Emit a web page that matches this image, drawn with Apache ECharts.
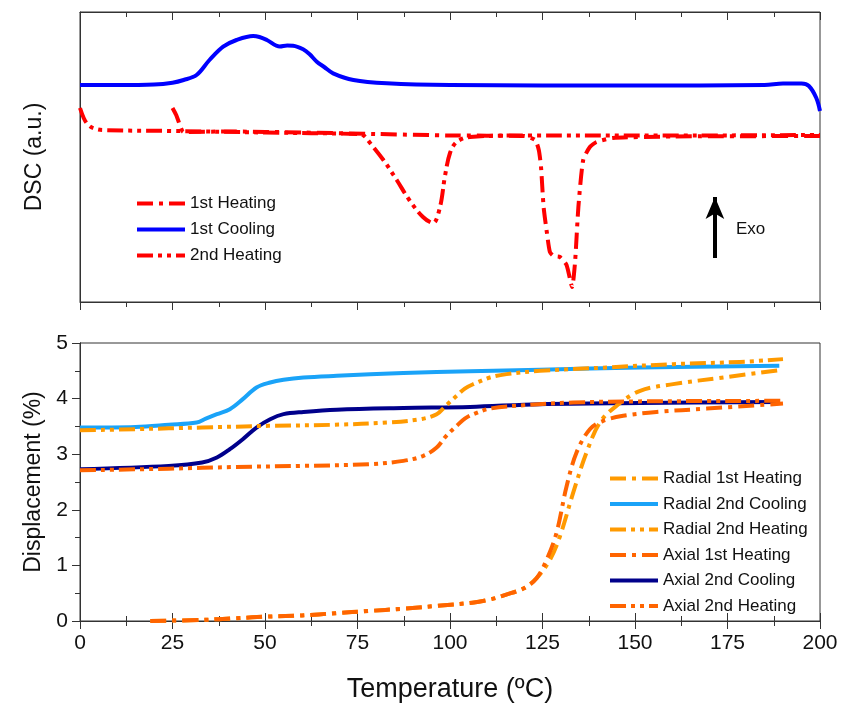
<!DOCTYPE html>
<html>
<head>
<meta charset="utf-8">
<script src="https://cdn.jsdelivr.net/npm/echarts@6/dist/echarts.min.js"></script>
<style>
  body { margin: 0; background: #fff; }
  #main { width: 844px; height: 709px; }
</style>
</head>
<body>
<div id="main"></div>
<script>
// ---- DSC panel (arbitrary units) ----
const cool1T = [0, 10, 20, 25, 28, 31.5, 35, 38.7, 42.3, 46.8, 48.5, 50.5, 54, 56, 57.6, 60.3, 62, 64, 66, 68.4, 73.9, 82.9, 100, 150, 185, 190, 195, 197, 199, 200];
const cool1 = [21.7, 21.7, 21.75, 21.93, 22.2, 22.7, 24.2, 25.53, 26.2, 26.6, 26.5, 26.2, 25.55, 25.65, 25.63, 25.27, 24.8, 24.03, 23.5, 22.87, 22.2, 21.87, 21.7, 21.65, 21.7, 21.85, 21.85, 21.6, 20.4, 19.1];

const heat1T = [25, 26, 27, 28, 40, 60, 80, 100, 120, 123, 124, 124.6, 125.3, 126.2, 127, 128, 129.7, 131.5, 133, 133.8, 134.7, 136, 137.8, 139.6, 144, 160, 200];
const heat1 = [19.4, 18.7, 17.7, 17.0, 17.05, 16.95, 16.8, 16.65, 16.6, 16.2, 15.2, 13.5, 9.5, 6.9, 5.0, 4.6, 4.5, 3.7, 1.5, 4.0, 9.5, 14.2, 15.5, 16.0, 16.4, 16.55, 16.6];

const heat2T = [0, 1, 2, 3.5, 6, 25, 50, 75, 76.5, 78.4, 82, 85.6, 89, 92.7, 95.4, 97.3, 98.6, 100, 101.8, 105.4, 120, 160, 200];
const heat2 = [19.4, 18.4, 17.8, 17.4, 17.2, 17.1, 16.95, 16.8, 16.7, 15.9, 14.2, 12.2, 10.2, 8.5, 7.9, 9.5, 12.5, 14.9, 16.0, 16.5, 16.65, 16.65, 16.7];

// Exo arrow (data coords of the DSC panel)
const exoT = 171.6, exoFrom = 4.4, exoTo = 10.5;

// ---- Displacement panel (%) ----
const radH1T = [19, 33, 42, 51, 60, 69, 78, 87, 96, 106, 111, 115, 120, 123.4, 127, 129.7, 133.3, 136.9, 140.5, 145, 151.4, 160.3, 173.9, 190];
const radH1 = [0, 0.02, 0.05, 0.08, 0.1, 0.14, 0.18, 0.22, 0.27, 0.33, 0.39, 0.47, 0.59, 0.77, 1.1, 1.52, 2.31, 3.03, 3.57, 3.87, 4.14, 4.26, 4.38, 4.52];

const radC2T = [0, 15, 24, 31.5, 34, 37, 40.5, 44, 47.7, 51.4, 55, 60.4, 69.4, 87.4, 105.4, 124.3, 151.4, 189];
const radC2 = [3.48, 3.49, 3.53, 3.57, 3.64, 3.72, 3.81, 3.99, 4.2, 4.29, 4.34, 4.38, 4.41, 4.46, 4.49, 4.52, 4.56, 4.59];

const radH2T = [0, 15, 33, 51, 69, 83, 92, 96.4, 99, 101.8, 104, 106.3, 110.8, 115.3, 124.3, 142.3, 160.3, 178.4, 190];
const radH2 = [3.43, 3.45, 3.48, 3.51, 3.53, 3.57, 3.63, 3.72, 3.88, 4.05, 4.18, 4.26, 4.38, 4.44, 4.50, 4.56, 4.62, 4.66, 4.71];

const axH1T = [19, 33, 42, 51, 60, 69, 78, 87, 96, 106, 111, 115, 120, 123.4, 126.1, 128.8, 131.5, 134.2, 137.8, 141.4, 146.8, 155.8, 169.4, 190];
const axH1 = [0, 0.02, 0.05, 0.08, 0.1, 0.14, 0.18, 0.22, 0.27, 0.33, 0.39, 0.47, 0.59, 0.77, 1.1, 1.59, 2.42, 3.03, 3.45, 3.6, 3.69, 3.76, 3.82, 3.91];

const axC2T = [0, 24, 33, 37, 40.5, 44, 47.7, 51.4, 55, 60.4, 69.4, 87.4, 105.4, 124.3, 151.4, 189];
const axC2 = [2.73, 2.79, 2.85, 2.94, 3.09, 3.27, 3.48, 3.63, 3.72, 3.76, 3.80, 3.83, 3.85, 3.90, 3.92, 3.94];

const axH2T = [0, 24, 42, 60, 78, 87.4, 92.8, 96.4, 99, 101.8, 104, 106.3, 110.8, 119.8, 133.3, 151, 190];
const axH2 = [2.71, 2.74, 2.77, 2.79, 2.82, 2.88, 2.97, 3.12, 3.33, 3.51, 3.64, 3.72, 3.82, 3.88, 3.93, 3.95, 3.96];

function zip(xs, ys) {
    return xs.map(function (x, i) { return [x, ys[i]]; });
}

const FONT = 'Liberation Sans, Arial, sans-serif';
const AX = '#333';
const dash1 = [16, 6, 4, 6];
const dash2 = [16, 5, 4, 5, 4, 5];

function line(name, xs, ys, color, type, xi, yi, extra) {
    const s = {
        name: name,
        type: 'line',
        xAxisIndex: xi,
        yAxisIndex: yi,
        data: zip(xs, ys),
        symbol: 'none',
        smooth: 0.35,
        lineStyle: { color: color, width: 4, type: type, cap: 'butt', join: 'round' },
        itemStyle: { color: color }
    };
    return Object.assign(s, extra || {});
}

function xAx(grid, pos, inside, labels) {
    return {
        type: 'value', gridIndex: grid, position: pos,
        min: 0, max: 200, interval: 25,
        axisLine: { show: true, lineStyle: { color: AX, width: 1 } },
        axisTick: { show: true, inside: inside, length: 8, lineStyle: { color: AX } },
        minorTick: { show: true, splitNumber: 2, length: 5, lineStyle: { color: AX } },
        splitLine: { show: false },
        axisLabel: labels ? {
            show: true, fontFamily: FONT, fontSize: 21, color: '#111', margin: 12
        } : { show: false }
    };
}

const chart = echarts.init(document.getElementById('main'), null, { renderer: 'canvas' });

const legendText = { fontFamily: FONT, fontSize: 17, color: '#111' };

const option = {
    animation: false,
    backgroundColor: '#fff',
    grid: [
        { left: 80, right: 24, top: 12, height: 290, show: true, borderColor: AX, borderWidth: 1 },
        { left: 80, right: 24, top: 343, height: 278, show: true, borderColor: AX, borderWidth: 1 }
    ],
    xAxis: [
        xAx(0, 'bottom', false, false),
        xAx(0, 'top', true, false),
        Object.assign(xAx(1, 'bottom', false, true), {
            name: 'Temperature (ºC)',
            nameLocation: 'middle',
            nameGap: 55,
            nameTextStyle: { fontFamily: FONT, fontSize: 27, color: '#111' }
        }),
        xAx(1, 'top', false, false)
    ],
    yAxis: [
        {
            type: 'value', gridIndex: 0, min: 0, max: 29,
            axisLine: { show: true, lineStyle: { color: AX } },
            axisTick: { show: false }, axisLabel: { show: false }, splitLine: { show: false },
            name: 'DSC (a.u.)', nameLocation: 'middle', nameGap: 34,
            nameTextStyle: { fontFamily: FONT, fontSize: 23, color: '#111' }
        },
        {
            type: 'value', gridIndex: 1, min: 0, max: 5, interval: 1,
            axisLine: { show: true, lineStyle: { color: AX } },
            axisTick: { show: true, inside: false, length: 8, lineStyle: { color: AX } },
            minorTick: { show: true, splitNumber: 2, length: 5, lineStyle: { color: AX } },
            splitLine: { show: false },
            axisLabel: { fontFamily: FONT, fontSize: 21, color: '#111', margin: 12 },
            name: 'Displacement (%)', nameLocation: 'middle', nameGap: 34,
            nameTextStyle: { fontFamily: FONT, fontSize: 23, color: '#111' }
        },
        {
            type: 'value', gridIndex: 1, min: 0, max: 5, interval: 1, position: 'right',
            axisLine: { show: true, lineStyle: { color: AX } },
            axisTick: { show: true, inside: true, length: 8, lineStyle: { color: AX } },
            minorTick: { show: true, splitNumber: 2, length: 5, lineStyle: { color: AX } },
            splitLine: { show: false }, axisLabel: { show: false }
        }
    ],
    legend: [
        {
            orient: 'vertical', left: 130, top: 190,
            itemWidth: 48, itemHeight: 14, itemGap: 9,
            itemStyle: { opacity: 0 },
            lineStyle: { width: 4 },
            textStyle: legendText,
            data: ['1st Heating', '1st Cooling', '2nd Heating']
        },
        {
            orient: 'vertical', left: 603, top: 465,
            itemWidth: 48, itemHeight: 14, itemGap: 8.5,
            itemStyle: { opacity: 0 },
            lineStyle: { width: 4 },
            textStyle: legendText,
            data: ['Radial 1st Heating', 'Radial 2nd Cooling', 'Radial 2nd Heating',
                   'Axial 1st Heating', 'Axial 2nd Cooling', 'Axial 2nd Heating']
        }
    ],
    graphic: [
        { type: 'text', left: 736, top: 221, style: { text: 'Exo', fontFamily: FONT, fontSize: 17, fill: '#111' } }
    ],
    series: [
        line('1st Heating', heat1T, heat1, '#ff0000', dash1, 0, 0, { smooth: 0.2 }),
        line('1st Cooling', cool1T, cool1, '#0000ff', 'solid', 0, 0, {
            markLine: {
                silent: true,
                symbol: ['none', 'arrow'],
                symbolSize: [14, 22],
                label: { show: false },
                lineStyle: { color: '#000', width: 4, type: 'solid' },
                data: [[{ coord: [exoT, exoFrom] }, { coord: [exoT, exoTo] }]]
            }
        }),
        line('2nd Heating', heat2T, heat2, '#ff0000', dash2, 0, 0),

        line('Radial 2nd Cooling', radC2T, radC2, '#1aa3f8', 'solid', 2, 1),
        line('Axial 2nd Cooling', axC2T, axC2, '#00008b', 'solid', 2, 1),
        line('Radial 1st Heating', radH1T, radH1, '#ff9a00', dash1, 2, 1),
        line('Radial 2nd Heating', radH2T, radH2, '#ff9a00', dash2, 2, 1),
        line('Axial 1st Heating', axH1T, axH1, '#ff6400', dash1, 2, 1),
        line('Axial 2nd Heating', axH2T, axH2, '#ff6400', dash2, 2, 1)
    ]
};

chart.setOption(option);
</script>
</body>
</html>
